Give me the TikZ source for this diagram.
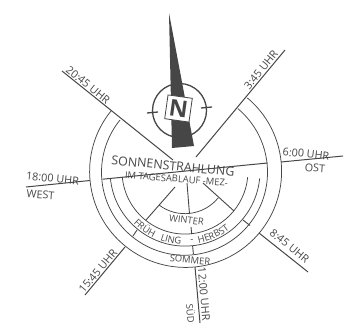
\documentclass[tikz,border=0pt]{standalone}
\usepackage{fontspec}
\usetikzlibrary{decorations.text}
\setmainfont{Open Sans}
\definecolor{tinte}{RGB}{70,70,70}
\begin{document}
\begin{tikzpicture}[x=1pt,y=-1pt,declare function={mx=185;my=171;ra=96;rb=83;rc=75;rd=63;re=43;rt=73.5;},
  strahl/.style={line width=1pt,draw=tinte},
  bogen/.style={line width=0.75pt,draw=tinte},
  speiche/.style={line width=0.9pt,draw=tinte},
  schrift/.style={text=tinte,inner sep=0pt,font=\fontsize{10.8}{12}\selectfont},
  klein/.style={text=tinte,inner sep=0pt,font=\fontsize{9.4}{11}\selectfont},
  rund/.style={decorate,decoration={text along path,text align=center,text={|\fontsize{9.4}{11}\selectfont\color{tinte}|#1}}}]
\useasboundingbox (0,0) rectangle (347,324);

% Mittelpunkt und Strahlen
\coordinate (O) at (343,156);
\coordinate (W) at (26,187);
\coordinate (S) at (200,323);
\coordinate (NW) at (62,71);
\coordinate (NE) at (285,50);
\coordinate (SO) at (308,272);
\coordinate (SW) at (85,295);
\coordinate (ObenL) at (173,160);
\coordinate (ObenR) at (196,157);

% Ringe
\coordinate (aNW) at (111,111);
\coordinate (bNW) at (120,120);
\coordinate (aW) at (90,180.5);
\coordinate (aO) at (281,162);
\coordinate (bW) at (102.5,179.2);
\coordinate (bO) at (267.5,163);
\coordinate (cW) at (110.4,178.4);
\coordinate (dW) at (122.3,177.2);
\draw[bogen] (aNW) arc[start angle=219,end angle=-50,radius=ra];
\draw[bogen] (bNW) arc[start angle=219,end angle=-50,radius=rb];
\draw[bogen] (cW) arc[start angle=174.4,end angle=5.6,radius=rc];
\draw[bogen] (dW) arc[start angle=174.4,end angle=5.6,radius=rd];
\coordinate (eL) at (159,205);
\draw[bogen] (eL) arc[start angle=127,end angle=39,radius=re];

% Strahlen
\draw[strahl] (W) -- (aW);
\draw[strahl] (bW) -- (bO);
\draw[strahl] (aO) -- (O);
\draw[strahl] (NW) -- (ObenL);
\draw[strahl] (NE) -- (ObenR);
\draw[strahl] (S) -- (195,267);
\draw[strahl] (SO) -- (259,233);
\draw[strahl] (SW) -- (125,247);

% Speichen
\draw[speiche] (175,187) -- (146,220);
\draw[speiche] (203,183) -- (234,211);
\draw[speiche] (187,183) -- (189.5,214);
\draw[speiche] (191,227) -- (191.7,234);
\draw[speiche] (192.6,246) -- (193.4,254);
\draw[speiche] (137,230) -- (133,236);
\draw[speiche] (243,220) -- (250,225.5);

% Beschriftung innen
\node[schrift,rotate=-5.6,font=\fontsize{12.4}{14}\selectfont] (titel) at (173,166) {SONNENSTRAHLUNG};
\node[klein,rotate=-4.5] (tages) at (176.5,179) {IM TAGESABLAUF -MEZ-};
\node[klein,rotate=-7] (winter) at (186.5,220) {WINTER};
\path[rund=FRÜH] (mx,my) ++(142:rt) arc[start angle=142,end angle=108,radius=rt];
\path[rund=LING] (mx,my) ++(118:rt) arc[start angle=118,end angle=85,radius=rt];
\node[klein] (strich) at (192,241) {-};
\path[rund=HERBST] (mx,my) ++(90:rt) arc[start angle=90,end angle=42,radius=rt];
\node[klein,rotate=-6] (sommer) at (190,260) {SOMMER};

% Beschriftung aussen
\node[schrift,rotate=-39] (nwtext) at (88,85) {20:45 UHR};
\node[schrift,rotate=51] (netext) at (261,70) {3:45 UHR};
\node[schrift,rotate=-6] (otext) at (306,154) {6:00 UHR};
\node[schrift,rotate=-4] (osttext) at (315,168) {OST};
\node[schrift,rotate=-6] (wtext) at (52.5,178.5) {18:00 UHR};
\node[schrift,rotate=-4] (westtext) at (40.5,195) {WEST};
\node[schrift,rotate=-39] (sotext) at (289.5,246) {8:45 UHR};
\node[schrift,rotate=50] (swtext) at (98,271) {15:45 UHR};
\node[schrift,rotate=-85] (stext) at (204,294) {12:00 UHR};
\node[schrift,rotate=-85,font=\fontsize{9.4}{11}\selectfont] (suedtext) at (191,313.5) {SÜD};

% Kompass
\draw[line width=1.3pt,draw=tinte] (179.5,110.5) circle[radius=27];
\draw[line width=1.3pt,draw=tinte] (147,113) -- (158,112);
\draw[line width=1.3pt,draw=tinte] (201,108) -- (212,107);
\fill[tinte] (169,13) -- (172,148) -- (194,146) -- cycle;
\node[draw=tinte,fill=white,line width=0.8pt,rotate=-8,minimum width=24.5pt,minimum height=24pt,inner sep=0pt,font=\bfseries\fontsize{23}{23}\selectfont,text=tinte] (nord) at (178.5,108.5) {N};
\end{tikzpicture}
\end{document}
